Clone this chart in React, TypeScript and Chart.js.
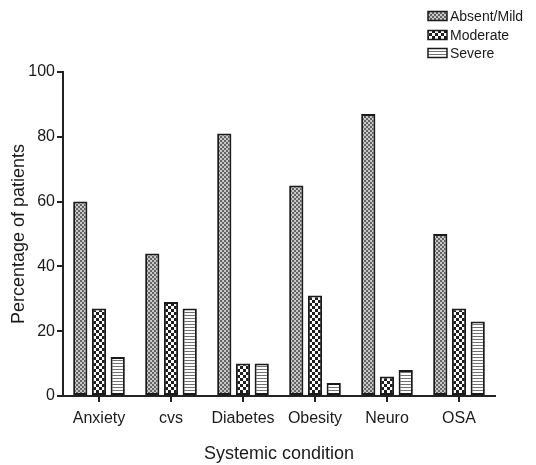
import React, { useEffect, useRef } from "react";
import { Chart, registerables } from "chart.js";
Chart.register(...registerables);

const categories = ["Anxiety", "cvs", "Diabetes", "Obesity", "Neuro", "OSA"];
const absentMild = [60, 44, 81, 65, 87, 50];
const moderate = [27, 29, 10, 31, 6, 27];
const severe = [12, 27, 10, 4, 8, 23];
const seriesLabels = ["Absent/Mild", "Moderate", "Severe"];
const yTicks = [0, 20, 40, 60, 80, 100];

const FONT = "'Liberation Sans', Arial, sans-serif";

function makePattern(kind: string): CanvasPattern | string {
  const c = document.createElement("canvas");
  const ctx = c.getContext("2d")!;
  if (kind === "stipple") {
    c.width = 4; c.height = 4;
    ctx.fillStyle = "#c8c8c8"; ctx.fillRect(0, 0, 4, 4);
    ctx.fillStyle = "#646464"; ctx.fillRect(0, 0, 2, 2); ctx.fillRect(2, 2, 2, 2);
  } else if (kind === "checker") {
    c.width = 6; c.height = 6;
    ctx.fillStyle = "#ffffff"; ctx.fillRect(0, 0, 6, 6);
    ctx.fillStyle = "#1e1e1e"; ctx.fillRect(0, 0, 3, 3); ctx.fillRect(3, 3, 3, 3);
  } else {
    c.width = 3; c.height = 3;
    ctx.fillStyle = "#ffffff"; ctx.fillRect(0, 0, 3, 3);
    ctx.fillStyle = "#707070"; ctx.fillRect(0, 0, 3, 1);
  }
  const p = ctx.createPattern(c, "repeat");
  return p || "#999";
}

export default function App() {
  const ref = useRef<HTMLCanvasElement>(null);
  useEffect(() => {
    const fills = [makePattern("stipple"), makePattern("checker"), makePattern("lines")];
    const legendPlugin = {
      id: "customLegend",
      afterDraw(chart: any) {
        const ctx = chart.ctx;
        ctx.save();
        ctx.font = `14px ${FONT}`;
        ctx.textBaseline = "middle";
        const rows = [16, 35, 53];
        chart.data.datasets.forEach((ds: any, i: number) => {
          const y = rows[i];
          ctx.fillStyle = fills[i];
          ctx.fillRect(428, y - 4.5, 19, 9);
          ctx.strokeStyle = "#1a1a1a";
          ctx.lineWidth = 1.5;
          ctx.strokeRect(428, y - 4.5, 19, 9);
          ctx.fillStyle = "#1a1a1a";
          ctx.fillText(ds.label, 450, y + 1);
        });
        ctx.restore();
      },
    };
    const mk = (label: string, data: number[], i: number) => ({
      label,
      data,
      backgroundColor: fills[i] as any,
      borderColor: "#1a1a1a",
      borderWidth: 2,
      borderSkipped: false as any,
      categoryPercentage: 0.78,
      barPercentage: 0.76,
    });
    const chart = new Chart(ref.current!, {
      type: "bar",
      data: {
        labels: categories,
        datasets: [
          mk(seriesLabels[0], absentMild, 0),
          mk(seriesLabels[1], moderate, 1),
          mk(seriesLabels[2], severe, 2),
        ],
      },
      options: {
        responsive: false,
        animation: false,
        devicePixelRatio: 1,
        layout: { padding: { top: 72, right: 41, left: 0, bottom: 0 } },
        plugins: { legend: { display: false }, tooltip: { enabled: false } },
        scales: {
          x: {
            grid: { display: true, drawOnChartArea: false, offset: false, tickLength: 6, color: "#222", lineWidth: 2 },
            border: { display: true, color: "#222", width: 2 },
            ticks: { color: "#1a1a1a", font: { family: FONT, size: 16 }, padding: 7, maxRotation: 0 },
            title: { display: true, text: "Systemic condition", color: "#1a1a1a", font: { family: FONT, size: 18 }, padding: { top: 14, bottom: 0 } },
            afterFit: (s: any) => { s.height = 69; },
          },
          y: {
            min: 0,
            max: 100,
            afterBuildTicks: (s: any) => { s.ticks = yTicks.map((v) => ({ value: v })); },
            grid: { display: true, drawOnChartArea: false, tickLength: 6, color: "#222", lineWidth: 2 },
            border: { display: true, color: "#222", width: 2 },
            ticks: { color: "#1a1a1a", font: { family: FONT, size: 16 }, padding: 2 },
            title: { display: true, text: "Percentage of patients", color: "#1a1a1a", font: { family: FONT, size: 18 }, padding: { top: 8, bottom: 4 } },
            afterFit: (s: any) => { s.width = 63; },
          },
        },
      },
      plugins: [legendPlugin],
    });
    return () => chart.destroy();
  }, []);
  return (
    <div style={{ position: "absolute", left: 0, top: 0, width: 536, height: 465, background: "#fff" }}>
      <canvas ref={ref} width={536} height={465} style={{ width: 536, height: 465 }} />
    </div>
  );
}
